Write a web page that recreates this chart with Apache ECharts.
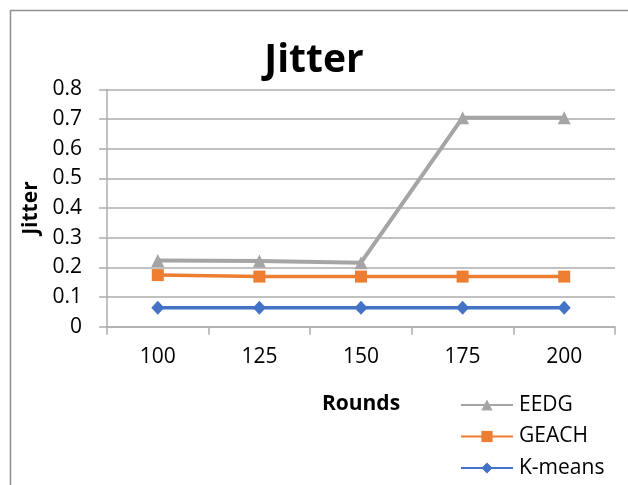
<!DOCTYPE html>
<html>
<head>
<meta charset="utf-8">
<script src="https://cdn.jsdelivr.net/npm/echarts@6/dist/echarts.min.js"></script>
<style>
  html, body { margin: 0; padding: 0; background: #fff; }
  #chart { width: 628px; height: 485px; }
</style>
</head>
<body>
<div id="chart"></div>
<script>
// Rounds on the x axis
const rounds = ['100', '125', '150', '175', '200'];

// Jitter per protocol
const eedg = [0.223, 0.222, 0.216, 0.705, 0.705];
const geach = [0.174, 0.169, 0.169, 0.169, 0.169];
const kmeans = [0.064, 0.064, 0.064, 0.064, 0.064];

const seriesNames = ['EEDG', 'GEACH', 'K-means'];
const yTicks = { min: 0, max: 0.8, step: 0.1 };

const FONT = '"Open Sans", "Noto Sans", sans-serif';
const gridColor = '#ADADAD';

const chart = echarts.init(document.getElementById('chart'), null, { renderer: 'canvas' });

chart.setOption({
  backgroundColor: '#ffffff',
  animation: false,
  graphic: [{
    type: 'rect',
    shape: { x: 10.5, y: 10.5, width: 700, height: 600 },
    style: { fill: 'none', stroke: '#8F8F8F', lineWidth: 1.5 },
    silent: true
  }],
  title: {
    text: 'Jitter',
    left: 'center',
    top: 41,
    padding: 0,
    textStyle: { fontFamily: FONT, fontWeight: 'bold', fontSize: 39, color: '#000' }
  },
  grid: { left: 107, right: 13, top: 89.5, bottom: 158.3, containLabel: false },
  legend: {
    orient: 'vertical',
    left: 460,
    top: 394.5,
    height: 90,
    padding: 0,
    itemWidth: 52,
    itemHeight: 14,
    itemGap: 10.5,
    data: seriesNames,
    textStyle: { fontFamily: FONT, fontSize: 21, color: '#000', lineHeight: 21, padding: [0, 0, 0, 1] }
  },
  xAxis: {
    type: 'category',
    data: rounds,
    boundaryGap: true,
    name: 'Rounds',
    nameLocation: 'middle',
    nameGap: 67,
    nameTextStyle: { fontFamily: FONT, fontWeight: 'bold', fontSize: 21, color: '#000' },
    axisLine: { lineStyle: { color: gridColor, width: 1.5 } },
    axisTick: { show: true, length: 8, interval: 0, lineStyle: { color: gridColor, width: 1.5 } },
    axisLabel: { fontFamily: FONT, fontSize: 21, color: '#000', margin: 20 },
    splitLine: { show: false }
  },
  yAxis: {
    type: 'value',
    min: yTicks.min,
    max: yTicks.max,
    interval: yTicks.step,
    name: 'Jitter',
    nameLocation: 'middle',
    nameGap: 65,
    nameRotate: 90,
    nameTextStyle: { fontFamily: FONT, fontWeight: 'bold', fontSize: 21, color: '#000' },
    axisLine: { show: true, lineStyle: { color: gridColor, width: 1.5 } },
    axisTick: { show: true, length: 8, lineStyle: { color: gridColor, width: 1.5 } },
    axisLabel: { fontFamily: FONT, fontSize: 21, color: '#000', margin: 25,
      formatter: v => (Math.round(v * 10) / 10).toString() },
    splitLine: { show: true, lineStyle: { color: gridColor, width: 1.5 } }
  },
  series: [
    {
      name: 'EEDG', type: 'line', data: eedg,
      symbol: 'triangle', symbolSize: 13,
      lineStyle: { color: '#A5A5A5', width: 4 },
      itemStyle: { color: '#A5A5A5' }
    },
    {
      name: 'GEACH', type: 'line', data: geach,
      symbol: 'rect', symbolSize: 12,
      lineStyle: { color: '#ED7D31', width: 3.5 },
      itemStyle: { color: '#ED7D31' }
    },
    {
      name: 'K-means', type: 'line', data: kmeans,
      symbol: 'diamond', symbolSize: [13, 14],
      lineStyle: { color: '#4472C4', width: 3.5 },
      itemStyle: { color: '#4472C4' }
    }
  ]
});
</script>
</body>
</html>
